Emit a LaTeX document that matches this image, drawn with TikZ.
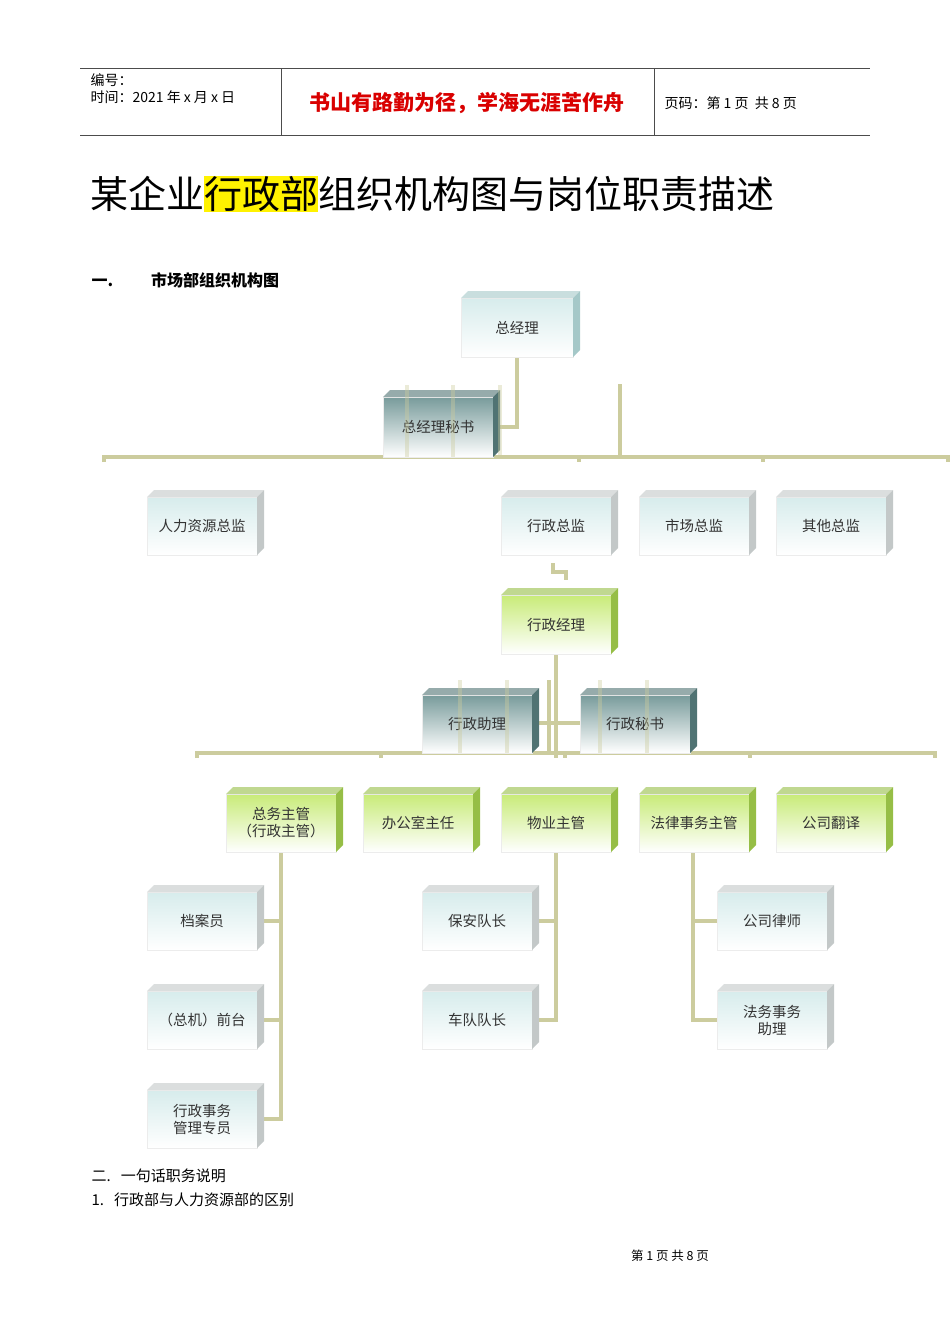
\documentclass[tikz,border=0pt]{standalone}
\usepackage{fontspec}
\setmainfont{Liberation Serif}
\newfontfamily\cjk{Noto Sans CJK SC}
\usetikzlibrary{calc}
\definecolor{ln}{RGB}{204,204,158}
\definecolor{sdl}{RGB}{195,200,200}
\definecolor{sdc}{RGB}{165,200,200}
\definecolor{sdd}{RGB}{80,115,115}
\definecolor{sdg}{RGB}{150,190,70}
\definecolor{tl}{RGB}{215,236,236}
\definecolor{tg}{RGB}{200,235,120}
\definecolor{td}{RGB}{120,155,155}
\tikzset{
 lin/.style={draw=ln,line width=3.5pt},
 lightc/.style={top color=tl,bottom color=white},
 darkc/.style={top color=td,bottom color=white},
 greenc/.style={top color=tg,bottom color=white},
 txt/.style={font=\cjk\fontsize{14.5}{17}\selectfont,text=black!80,align=center}
}
\newcommand\obox[8]{% name x0 y0 x1 y1 style sidecolor text
 \path[#6,draw=white!85!gray] (#2,#3) rectangle (#4,#5);
 \fill[#7!60!white] (#2,#3)--++(7,-7)--(#4+7,#3-7)--(#4,#3)--cycle;
 \fill[#7] (#4,#3)--++(7,-7)--(#4+7,#5-7)--(#4,#5)--cycle;
 \node[txt] (#1) at ({(#2+#4)/2},{(#3+#5)/2}) {#8};}
\begin{document}
\begin{tikzpicture}[x=1pt,y=-1pt]
\useasboundingbox (0,0) rectangle (950,1344);
% header
\draw[black!70] (80,68)--(870,68) (80,135)--(870,135) (281,68)--(281,135) (654,68)--(654,135);
\node[anchor=west,font=\cjk\fontsize{14}{17}\selectfont,align=left] (h1) at (87,89) {编号：\\时间：2021 年 x 月 x 日};
\node[font=\cjk\bfseries\fontsize{21}{24}\selectfont,text=red!85!black] (h2) at (467,103) {书山有路勤为径，学海无涯苦作舟};
\node[anchor=west,font=\cjk\fontsize{14}{17}\selectfont] (h3) at (661,103) {页码：第 1 页\ \ 共 8 页};
\node[anchor=west,font=\cjk\fontsize{38}{42}\selectfont,inner sep=0] (title) at (90,194) {某企业{\setlength\fboxsep{0pt}\colorbox{yellow}{行政部}}组织机构图与岗位职责描述};
\node[anchor=west,font=\cjk\bfseries\fontsize{16}{19}\selectfont] (sec) at (88,280) {一.\hspace{38pt}市场部组织机构图};
% connectors
\draw[lin] (104,462)--(104,457)--(948,457)--(948,462);
\draw[lin] (579,457)--(579,462) (763,457)--(763,462) (620,384)--(620,457);
\draw[lin] (517,357)--(517,427)--(493,427);
\draw[lin] (553,563)--(553,572)--(566,572)--(566,580);
\draw[lin] (556,654)--(556,758) (532,723)--(580,723) (549,680)--(549,753);
\draw[lin] (197,758)--(197,753)--(935,753)--(935,758);
\draw[lin] (381,753)--(381,758) (565,753)--(565,758) (750,753)--(750,758);
\draw[lin] (281,852)--(281,1119)--(257,1119) (257,921)--(281,921) (257,1020)--(281,1020);
\draw[lin] (556,852)--(556,1020)--(532,1020) (532,921)--(556,921);
\draw[lin] (693,852)--(693,1020)--(717,1020) (693,921)--(717,921);
% boxes
\obox{gm}{461}{298}{573}{357}{lightc}{sdc}{总经理}
\obox{gms}{383}{397}{493}{457}{darkc}{sdd}{总经理秘书}
\obox{hr}{147}{497}{257}{555}{lightc}{sdl}{人力资源总监}
\obox{ad}{501}{497}{611}{555}{lightc}{sdl}{行政总监}
\obox{mk}{639}{497}{749}{555}{lightc}{sdl}{市场总监}
\obox{ot}{776}{497}{886}{555}{lightc}{sdl}{其他总监}
\obox{am}{501}{595}{611}{654}{greenc}{sdg}{行政经理}
\obox{aa}{422}{695}{532}{753}{darkc}{sdd}{行政助理}
\obox{as}{580}{695}{690}{753}{darkc}{sdd}{行政秘书}
\obox{gs}{226}{794}{336}{852}{greenc}{sdg}{总务主管\\（行政主管）}
\obox{of}{363}{794}{473}{852}{greenc}{sdg}{办公室主任}
\obox{pm}{501}{794}{611}{852}{greenc}{sdg}{物业主管}
\obox{lg}{639}{794}{749}{852}{greenc}{sdg}{法律事务主管}
\obox{tr}{776}{794}{886}{852}{greenc}{sdg}{公司翻译}
\obox{ar}{147}{892}{257}{950}{lightc}{sdl}{档案员}
\obox{fd}{147}{991}{257}{1049}{lightc}{sdl}{（总机）前台}
\obox{sp}{147}{1090}{257}{1148}{lightc}{sdl}{行政事务\\管理专员}
\obox{sc}{422}{892}{532}{950}{lightc}{sdl}{保安队长}
\obox{cv}{422}{991}{532}{1049}{lightc}{sdl}{车队队长}
\obox{lw}{717}{892}{827}{950}{lightc}{sdl}{公司律师}
\obox{la}{717}{991}{827}{1049}{lightc}{sdl}{法务事务\\助理}
% see-through lines
\draw[lin,opacity=0.4] (407,385)--(407,457) (453,385)--(453,457) (500,385)--(500,457);
\draw[lin,opacity=0.4] (460,680)--(460,753) (507,680)--(507,753) (600,680)--(600,753) (647,680)--(647,753);
% footer texts
\node[anchor=west,font=\cjk\fontsize{15}{18}\selectfont] (t1) at (88,1176) {二.\ \ \ 一句话职务说明};
\node[anchor=west,font=\cjk\fontsize{15}{18}\selectfont] (t2) at (88,1200) {1.\ \ \ 行政部与人力资源部的区别};
\node[font=\cjk\fontsize{12.5}{15}\selectfont] (pg) at (670,1256) {第\ 1\ 页\ 共\ 8\ 页};
\end{tikzpicture}
\end{document}
